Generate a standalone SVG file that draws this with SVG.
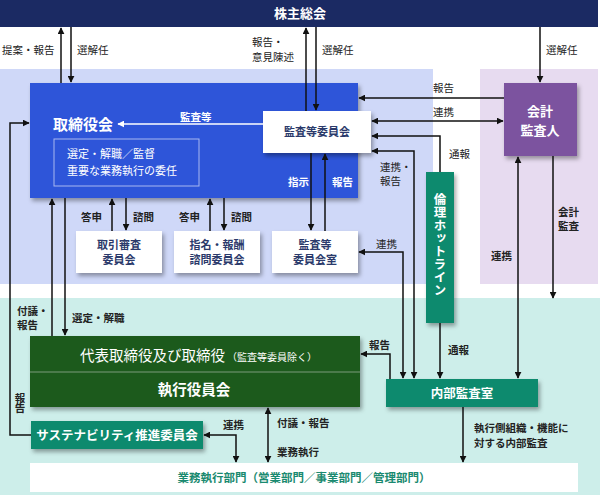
<svg xmlns="http://www.w3.org/2000/svg" width="602" height="495" viewBox="0 0 602 495">
<style>
text{font-family:"Noto Sans CJK JP","Noto Sans",sans-serif}
.lbl{font-size:10.5px;fill:#222}
.wl{font-size:10.5px;fill:#fff;font-weight:bold}
.ln{fill:none;stroke:#111;stroke-width:1.5}
.wln{fill:none;stroke:#fff;stroke-width:1.3}
.wbox{fill:#fff}
.navy{font-size:11px;fill:#2b3a6b;font-weight:bold;text-anchor:middle}
.wt{fill:#fff;font-weight:bold;text-anchor:middle}
.vt{writing-mode:vertical-rl}
</style>
<defs>
<marker id="ah" viewBox="0 0 10 10" refX="9" refY="5" markerWidth="7" markerHeight="7" markerUnits="userSpaceOnUse" orient="auto-start-reverse"><path d="M0,0 L10,5 L0,10 z" fill="#111"/></marker>
<marker id="wah" viewBox="0 0 10 10" refX="9" refY="5" markerWidth="7" markerHeight="7" markerUnits="userSpaceOnUse" orient="auto"><path d="M0,0 L10,5 L0,10 z" fill="#fff"/></marker>
<filter id="sh" x="-10%" y="-10%" width="130%" height="140%"><feDropShadow dx="2" dy="3" stdDeviation="2" flood-color="#000" flood-opacity="0.35"/></filter>
</defs>
<rect width="602" height="495" fill="#fff"/>
<!-- backgrounds -->
<rect x="0" y="69" width="433" height="215" fill="#cfd8f8"/>
<rect x="480" y="69" width="118" height="215" fill="#e7dbf0"/>
<rect x="0" y="298" width="600" height="197" fill="#cdeeea"/>

<g id="shareholders">
<rect x="0" y="0" width="598" height="27" fill="#1b2a63"/>
<text x="300" y="18" class="wt" font-size="13">株主総会</text>
</g>

<g id="board">
<rect x="30" y="83" width="328" height="115" fill="#2f55d9" filter="url(#sh)"/>
<text x="53" y="130" fill="#fff" font-weight="bold" font-size="15">取締役会</text>
<rect x="54" y="139" width="145" height="47" fill="none" stroke="#a8b8f0" stroke-width="1"/>
<text x="67" y="158" fill="#fff" font-size="11">選定・解職／監督</text>
<text x="67" y="175" fill="#fff" font-size="11">重要な業務執行の委任</text>
<text x="288" y="186" class="wl">指示</text>
<text x="332" y="186" class="wl">報告</text>
</g>

<g id="audit-committee">
<rect x="263" y="111" width="108" height="42" class="wbox" filter="url(#sh)"/>
<text x="317" y="136" class="navy">監査等委員会</text>
</g>

<g id="transaction-review">
<rect x="76" y="231" width="86" height="42" class="wbox" filter="url(#sh)"/>
<text x="119" y="249" class="navy">取引審査</text>
<text x="119" y="264" class="navy">委員会</text>
</g>
<g id="nomination">
<rect x="174" y="231" width="86" height="42" class="wbox" filter="url(#sh)"/>
<text x="217" y="249" class="navy">指名・報酬</text>
<text x="217" y="264" class="navy">諮問委員会</text>
</g>
<g id="audit-office">
<rect x="272" y="231" width="86" height="42" class="wbox" filter="url(#sh)"/>
<text x="315" y="249" class="navy">監査等</text>
<text x="315" y="264" class="navy">委員会室</text>
</g>

<g id="accounting-auditor">
<rect x="504" y="83" width="73" height="73" fill="#7c529f" filter="url(#sh)"/>
<text x="540" y="116" class="wt" font-size="13">会計</text>
<text x="540" y="135" class="wt" font-size="13">監査人</text>
</g>

<g id="hotline">
<rect x="426" y="172" width="28" height="151" fill="#0e8a6e" filter="url(#sh)"/>
<text x="440" y="245" class="wt vt" font-size="12.5" letter-spacing="0.5">倫理ホットライン</text>
</g>

<g id="executives">
<rect x="30" y="336" width="330" height="71" fill="#1b5a1e" filter="url(#sh)"/>
<line x1="30" y1="372" x2="360" y2="372" stroke="#7a9a7a" stroke-width="1"/>
<text x="80" y="361" fill="#fff" font-size="14.5">代表取締役及び取締役<tspan font-size="10" dx="2">（監査等委員除く）</tspan></text>
<text x="194" y="395" class="wt" font-size="14.5" font-weight="normal">執行役員会</text>
</g>

<g id="sustainability">
<rect x="31" y="421" width="172" height="28" fill="#0e8a6e" filter="url(#sh)"/>
<text x="117" y="440" class="wt" font-size="12.5">サステナビリティ推進委員会</text>
</g>

<g id="internal-audit">
<rect x="386" y="379" width="152" height="28" fill="#0e8a6e" filter="url(#sh)"/>
<text x="462" y="398" class="wt" font-size="12.5">内部監査室</text>
</g>

<g id="business-units">
<rect x="30" y="463" width="548" height="29" fill="#fff"/>
<text x="304" y="482" fill="#1a8a70" font-size="11.5" font-weight="bold" text-anchor="middle">業務執行部門（営業部門／事業部門／管理部門）</text>
</g>

<g id="connectors">
<path class="ln" d="M61,83 V28" marker-end="url(#ah)"/>
<path class="ln" d="M71,27 V82" marker-end="url(#ah)"/>
<path class="ln" d="M306,111 V28" marker-end="url(#ah)"/>
<path class="ln" d="M316,27 V110" marker-end="url(#ah)"/>
<path class="ln" d="M540,27 V82" marker-end="url(#ah)"/>
<path class="ln" d="M504,98 H359" marker-end="url(#ah)"/>
<path class="ln" d="M372,121 H503" marker-start="url(#ah)" marker-end="url(#ah)"/>
<path class="ln" d="M440,172 V136 H372" marker-end="url(#ah)"/>
<path class="ln" d="M372,151 H414 V378" marker-start="url(#ah)" marker-end="url(#ah)"/>
<path class="ln" d="M359,252 H403 V378" marker-start="url(#ah)" marker-end="url(#ah)"/>
<path class="wln" d="M263,124 H118" marker-end="url(#wah)"/>
<path class="ln" d="M311,153 V230" marker-end="url(#ah)"/>
<path class="ln" d="M325,231 V154" marker-end="url(#ah)"/>
<path class="ln" d="M112,231 V199" marker-end="url(#ah)"/>
<path class="ln" d="M126,198 V230" marker-end="url(#ah)"/>
<path class="ln" d="M210,231 V199" marker-end="url(#ah)"/>
<path class="ln" d="M224,198 V230" marker-end="url(#ah)"/>
<path class="ln" d="M52,336 V199" marker-end="url(#ah)"/>
<path class="ln" d="M65,198 V335" marker-end="url(#ah)"/>
<path class="ln" d="M31,435 H10 V123 H29" marker-end="url(#ah)"/>
<path class="ln" d="M390,379 V354 H361" marker-end="url(#ah)"/>
<path class="ln" d="M440,323 V378" marker-end="url(#ah)"/>
<path class="ln" d="M518,378 V157" marker-start="url(#ah)" marker-end="url(#ah)"/>
<path class="ln" d="M553,156 V298" marker-end="url(#ah)"/>
<path class="ln" d="M204,435 H236 V462" marker-start="url(#ah)" marker-end="url(#ah)"/>
<path class="ln" d="M268,408 V462" marker-start="url(#ah)" marker-end="url(#ah)"/>
<path class="ln" d="M463,407 V462" marker-end="url(#ah)"/>
</g>

<g id="labels">
<text x="2" y="54" class="lbl">提案・報告</text>
<text x="77" y="54" class="lbl">選解任</text>
<text x="252" y="46" class="lbl">報告・</text>
<text x="252" y="61" class="lbl">意見陳述</text>
<text x="322" y="54" class="lbl">選解任</text>
<text x="546" y="54" class="lbl">選解任</text>
<text x="433" y="92" class="lbl">報告</text>
<text x="433" y="116" class="lbl">連携</text>
<text x="449" y="158" class="lbl">通報</text>
<text x="380" y="171" class="lbl">連携・</text>
<text x="380" y="185" class="lbl">報告</text>
<text x="376" y="248" class="lbl">連携</text>
<text x="180" y="121" class="wl" font-weight="bold">監査等</text>
<text x="81" y="221" class="lbl" font-weight="bold">答申</text>
<text x="133" y="221" class="lbl" font-weight="bold">諮問</text>
<text x="179" y="221" class="lbl" font-weight="bold">答申</text>
<text x="231" y="221" class="lbl" font-weight="bold">諮問</text>
<text x="558" y="216" class="lbl" font-weight="bold">会計</text>
<text x="558" y="230" class="lbl" font-weight="bold">監査</text>
<text x="491" y="260" class="lbl" font-weight="bold">連携</text>
<text x="17" y="315" class="lbl" font-weight="bold">付議・</text>
<text x="17" y="329" class="lbl" font-weight="bold">報告</text>
<text x="72" y="322" class="lbl" font-weight="bold">選定・解職</text>
<text x="20" y="403" class="lbl vt" font-weight="bold" text-anchor="middle">報告</text>
<text x="369" y="349" class="lbl" font-weight="bold">報告</text>
<text x="448" y="354" class="lbl" font-weight="bold">通報</text>
<text x="223" y="429" class="lbl" font-weight="bold">連携</text>
<text x="277" y="427" class="lbl" font-weight="bold">付議・報告</text>
<text x="277" y="456" class="lbl" font-weight="bold">業務執行</text>
<text x="474" y="432" class="lbl" font-weight="bold">執行側組織・機能に</text>
<text x="474" y="447" class="lbl" font-weight="bold">対する内部監査</text>
</g>
</svg>
